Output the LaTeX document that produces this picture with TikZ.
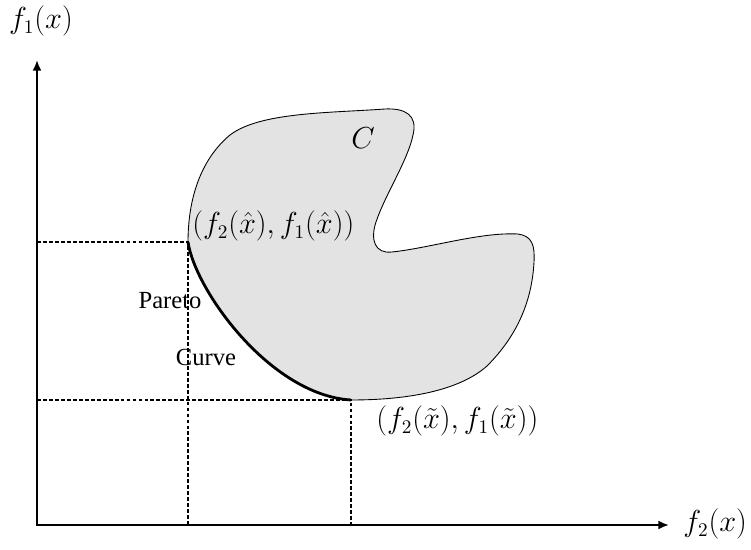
\documentclass[tikz,border=0pt]{standalone}
\usepackage{fontspec}
\setmainfont{Liberation Serif}
\usetikzlibrary{arrows.meta}
\definecolor{regiongray}{RGB}{227,227,227}

\begin{document}
\begin{tikzpicture}[
  x=0.02cm,y=-0.02cm,
  >={Latex[length=6pt,width=5pt]},
  axis/.style={<->,line width=1.1pt},
  guide/.style={line width=0.8pt,dash pattern=on 2.2pt off 1.2pt},
  region/.style={fill=regiongray,draw=black,line width=0.5pt},
  pareto/.style={line width=1.6pt},
  mathlabel/.style={font=\fontsize{16}{19}\selectfont,inner sep=0pt},
  textlabel/.style={font=\fontsize{14}{17}\selectfont,inner sep=0pt},
]
\useasboundingbox (0,0) rectangle (751,550);

%% -- Key points --------------------------------------------------------------
\coordinate (O)    at (37,525);
\coordinate (ytip) at (37,60);
\coordinate (xtip) at (669,525);
\coordinate (xhat) at (188,242);
\coordinate (xtil) at (351,400);

%% -- Feasible region C ---------------------------------------------------------
\draw[region] (xhat)
  .. controls (188,200) and (200,160) .. (230,135)
  .. controls (260,112) and (330,113) .. (385,109)
  .. controls (405,108) and (418,115) .. (413,135)
  .. controls (408,160) and (385,195) .. (376,222)
  .. controls (370,240) and (375,254) .. (392,252)
  .. controls (430,248) and (480,232) .. (518,234)
  .. controls (532,236) and (535,245) .. (534,262)
  .. controls (532,300) and (518,335) .. (487,366)
  .. controls (460,390) and (410,400) .. (xtil)
  .. controls (270,395) and (195,290) .. (xhat) -- cycle;

%% -- Pareto curve ------------------------------------------------------------
\draw[pareto] (xhat) .. controls (195,290) and (270,395) .. (xtil);

%% -- Dashed guides -------------------------------------------------------------
\draw[guide] (O |- xhat) -- (xhat) -- (xhat |- O);
\draw[guide] (O |- xtil) -- (xtil) -- (xtil |- O);

%% -- Axes --------------------------------------------------------------------
\draw[axis] (ytip) -- (O) -- (xtip);

%% -- Labels ------------------------------------------------------------------
\node[mathlabel] (f1lab) at (41,21) {$f_1(x)$};
\node[mathlabel,anchor=west] (f2lab) at (683,524) {$f_2(x)$};
\node[mathlabel] (Clab) at (363,138) {$C$};
\node[mathlabel,anchor=west] (hatlab) at (192,226)
  {$(f_2(\hat{x}),f_1(\hat{x}))$};
\node[mathlabel,anchor=west] (tillab) at (376,421)
  {$(f_2(\tilde{x}),f_1(\tilde{x}))$};
\node[textlabel,anchor=base] (paretolab) at (170,309) {Pareto};
\node[textlabel,anchor=base] (curvelab) at (206,366) {Curve};

\end{tikzpicture}
\end{document}
